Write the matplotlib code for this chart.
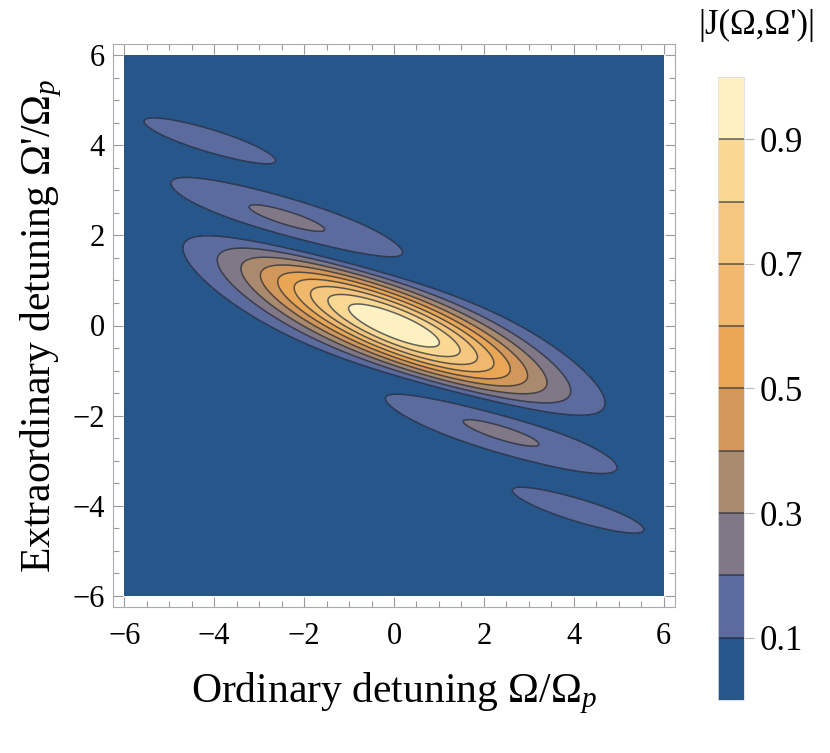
import numpy as np
import matplotlib
matplotlib.use("Agg")
import matplotlib.pyplot as plt
from matplotlib.colors import ListedColormap, BoundaryNorm

# ---- data / model parameters ----
levels = [0.0, 0.1, 0.2, 0.3, 0.4, 0.5, 0.6, 0.7, 0.8, 0.9, 1.0]
fill_colors = ["#27568a", "#5b6b9d", "#807887", "#a98a6e", "#d2975b",
               "#e9a756", "#efb86d", "#f4c67e", "#f9d893", "#fdf1c2"]
pump_width = 1.5       # Gaussian width along (Ω+Ω')
phase_slope = 0.25     # phase-matching direction: slope*Ω + Ω'
phase_scale = 2.516    # sinc argument scale
axis_ticks = [-6, -4, -2, 0, 2, 4, 6]
cbar_ticks = [0.1, 0.3, 0.5, 0.7, 0.9]
xlabel = "Ordinary detuning Ω/Ω$_{p}$"
ylabel = "Extraordinary detuning Ω'/Ω$_{p}$"
cbar_title = "|J(Ω,Ω')|"

plt.rcParams['font.family'] = ['Liberation Serif', 'DejaVu Serif']
plt.rcParams['mathtext.fontset'] = 'custom'
plt.rcParams['mathtext.rm'] = 'Liberation Serif'
plt.rcParams['mathtext.it'] = 'Liberation Serif:italic'

w = np.linspace(-6, 6, 700)
W, Wp = np.meshgrid(w, w)
J = np.abs(np.exp(-(W + Wp) ** 2 / (2 * pump_width ** 2))
           * np.sinc(phase_scale / np.pi * (phase_slope * W + Wp)))

fig = plt.figure(figsize=(8.3, 7.53), dpi=100)
ax = fig.add_axes([113 / 830, 1 - 607 / 753, (675 - 113) / 830, (607 - 44) / 753])
cmap = ListedColormap(fill_colors)
norm = BoundaryNorm(levels, cmap.N)
cf = ax.contourf(W, Wp, J, levels=levels, cmap=cmap, norm=norm)
cs = ax.contour(W, Wp, J, levels=levels[1:-1], colors='#1b2433', linewidths=1.1, alpha=0.7)

ax.set_xlim(-6.25, 6.25)
ax.set_ylim(-6.25, 6.25)
ax.set_xticks(axis_ticks)
ax.set_yticks(axis_ticks)
ax.set_xticklabels([str(t).replace('-', '\u2212') for t in axis_ticks])
ax.set_yticklabels([str(t).replace('-', '\u2212') for t in axis_ticks])
ax.set_xticks(np.arange(-6, 6.01, 0.5), minor=True)
ax.set_yticks(np.arange(-6, 6.01, 0.5), minor=True)
ax.tick_params(which='both', direction='in', top=True, right=True, color='#999999', width=0.8)
ax.tick_params(which='major', length=7, labelsize=22)
ax.tick_params(axis='x', which='major', pad=11)
ax.tick_params(axis='y', which='major', pad=6)
ax.tick_params(which='minor', length=4)
for s in ax.spines.values():
    s.set_color('#aaaaaa')
    s.set_linewidth(0.8)
ax.set_xlabel(xlabel, fontsize=30, labelpad=14)
ax.set_ylabel(ylabel, fontsize=30, labelpad=6)

cax = fig.add_axes([718 / 830, 1 - 700 / 753, 26 / 830, 623 / 753])
cb = fig.colorbar(cf, cax=cax, ticks=cbar_ticks)
cb.add_lines(cs)
cb.minorticks_off()
cb.ax.tick_params(direction='out', length=7, color='#bbbbbb', labelsize=25, pad=4)
cb.outline.set_edgecolor('#dddddd')
cb.outline.set_linewidth(0.6)
fig.text(757 / 830, 1 - 25 / 753, cbar_title, ha='center', va='center', fontsize=25)

fig.savefig("out.png", dpi=100)
